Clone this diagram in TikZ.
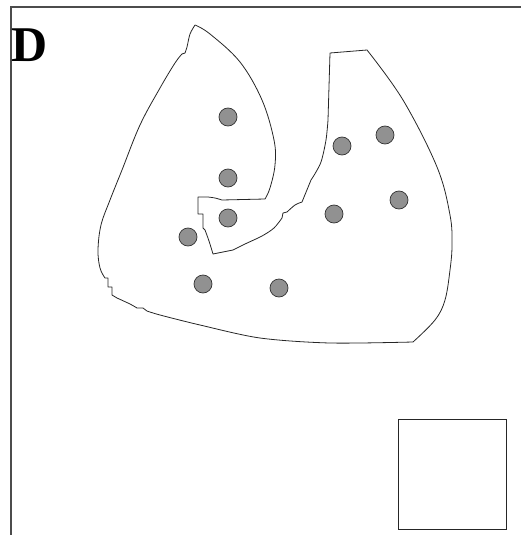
\documentclass[tikz,border=0pt]{standalone}
\usepackage{fontspec}
\setmainfont{Liberation Serif}
\begin{document}
\begin{tikzpicture}[x=1pt,y=-1pt,
  outline/.style={draw=black!85, line width=0.8pt, line join=round},
  frameline/.style={draw=black!70, line width=1.1pt},
  dot/.style={circle, draw=black!80, fill=black!43, line width=0.7pt, minimum size=18pt, inner sep=0pt}]
\useasboundingbox (0,0) rectangle (521,535);
% frame
\draw[frameline] (11,535) -- (11,7) -- (521,7);
% label
\node[anchor=base west, inner sep=0pt, font=\bfseries\fontsize{50}{50}\selectfont] (lbl) at (11,62) {D};
% blob
\draw[outline]
  plot[smooth, tension=0.6] coordinates {(195,25) (210,34) (240,62) (262,100) (274,140) (275,165) (270,188) (265,199)}
  -- (222,200)
  -- plot[smooth] coordinates {(222,200) (215,198) (208,197)}
  -- (198,197) -- (198,214) -- (203,214) -- (203,228) -- (205,230)
  -- plot[smooth] coordinates {(205,230) (209,241) (213,254)}
  -- (233,250) -- (237,248)
  -- plot[smooth] coordinates {(237,248) (245,244) (262,236) (274,228) (282,218)}
  -- (283,213) -- (287,212)
  -- plot[smooth] coordinates {(287,212) (295,205) (302,202)}
  -- (311,180) -- (313,177)
  -- plot[smooth] coordinates {(313,177) (321,162) (326,140) (328,120)}
  -- (330,53) -- (367,50)
  -- plot[smooth, tension=0.6] coordinates {(367,50) (403,100) (437,167) (450,215) (452,245) (450,270) (445,300) (435,320) (413,342)}
  -- plot[smooth, tension=0.5] coordinates {(413,342) (330,343) (260,338) (200,325) (160,315) (147,311)}
  -- (143,308) -- (137,308)
  -- plot[smooth] coordinates {(137,308) (130,304) (117,298)}
  -- (112,295) -- (112,287) -- (108,287) -- (108,278) -- (105,278)
  -- plot[smooth, tension=0.6] coordinates {(105,278) (100,268) (98,250) (101,225) (110,200) (122,170) (140,125) (160,88) (175,63) (182,54)}
  -- (185,53)
  -- plot[smooth] coordinates {(185,53) (187,47) (190,34) (195,25)}
  -- cycle;
% dots
\node[dot] (c1) at (228,117) {};
\node[dot] (c2) at (228,178) {};
\node[dot] (c3) at (228,218) {};
\node[dot] (c4) at (188,237) {};
\node[dot] (c5) at (203,284) {};
\node[dot] (c6) at (279,288) {};
\node[dot] (c7) at (342,146) {};
\node[dot] (c8) at (385,135) {};
\node[dot] (c9) at (399,200) {};
\node[dot] (c10) at (334,214) {};
% square
\draw[draw=black!85, line width=0.9pt] (398,419) rectangle (506,529);
\end{tikzpicture}
\end{document}
